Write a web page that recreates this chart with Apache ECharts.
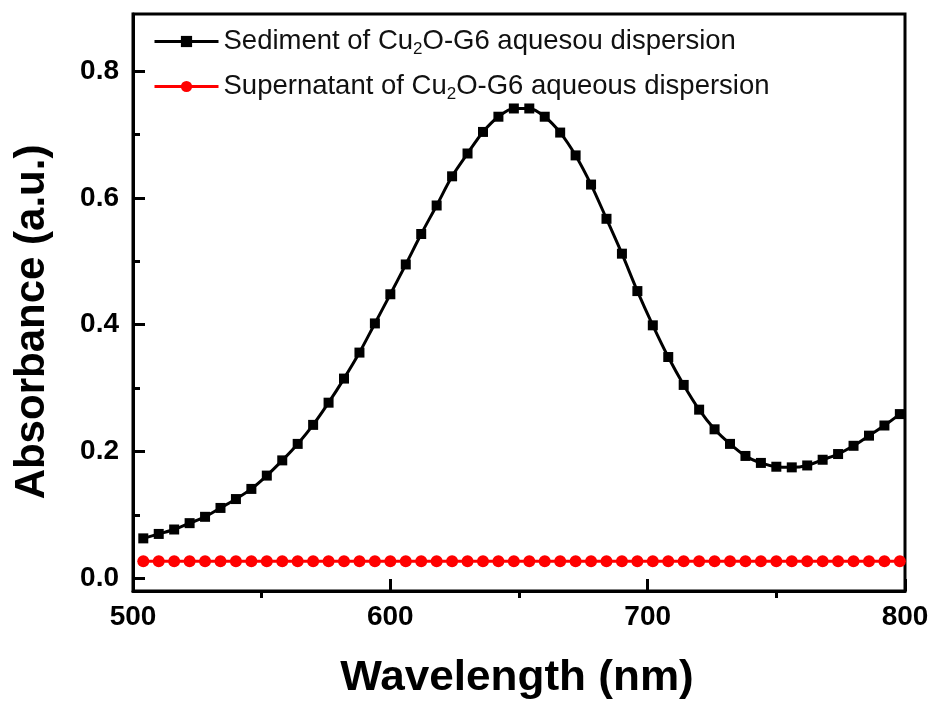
<!DOCTYPE html>
<html>
<head>
<meta charset="utf-8">
<script src="https://cdn.jsdelivr.net/npm/echarts@6/dist/echarts.min.js"></script>
<style>html,body{margin:0;padding:0;background:#fff}#c{width:935px;height:704px}</style>
</head>
<body>
<div id="c"></div>
<script>
const wavelengths = [504,510,516,522,528,534,540,546,552,558,564,570,576,582,588,594,600,606,612,618,624,630,636,642,648,654,660,666,672,678,684,690,696,702,708,714,720,726,732,738,744,750,756,762,768,774,780,786,792,798];
const sediment = [0.063,0.070,0.077,0.087,0.097,0.111,0.125,0.141,0.162,0.186,0.212,0.242,0.277,0.315,0.356,0.402,0.448,0.495,0.543,0.588,0.634,0.670,0.704,0.728,0.741,0.741,0.728,0.703,0.667,0.621,0.567,0.512,0.453,0.399,0.349,0.305,0.266,0.235,0.212,0.193,0.182,0.176,0.175,0.178,0.187,0.196,0.209,0.225,0.241,0.259];
const supernatant = [0.027,0.027,0.027,0.027,0.027,0.027,0.027,0.027,0.027,0.027,0.027,0.027,0.027,0.027,0.027,0.027,0.027,0.027,0.027,0.027,0.027,0.027,0.027,0.027,0.027,0.027,0.027,0.027,0.027,0.027,0.027,0.027,0.027,0.027,0.027,0.027,0.027,0.027,0.027,0.027,0.027,0.027,0.027,0.027,0.027,0.027,0.027,0.027,0.027,0.027];
const seriesNames = ['Sediment of Cu2O-G6 aquesou dispersion','Supernatant of Cu2O-G6 aqueous dispersion'];
const xMajorTicks = [500,600,700,800];
const xMinorTicks = [550,650,750];
const yMajorTicks = [0,0.2,0.4,0.6,0.8];
const yMinorTicks = [0.1,0.3,0.5,0.7];
const xTitle = 'Wavelength (nm)';
const yTitle = 'Absorbance (a.u.)';

const FONT = 'Liberation Sans, Arial, sans-serif';
const chart = echarts.init(document.getElementById('c'));
const gridPos = () => ({left:133, right:30, top:14, bottom:113});
const LW = 3;
const ls = () => ({color:'#000', width:LW});
const X_RANGE = {min:500, max:800};
const Y_RANGE = {min:-0.02, max:0.89};

function legendFmt(name){
  const i = name.indexOf('Cu2O');
  return '{a|' + name.slice(0, i+2) + '}{s|2}{a|' + name.slice(i+3) + '}';
}
function tickX(gi, values, inside, len){
  return Object.assign({type:'value', gridIndex:gi, position:'bottom',
    axisLine:{show:false, onZero:false},
    axisTick:{show:true, inside:inside, length:len, lineStyle:ls(), customValues:values},
    axisLabel:{show:false}, splitLine:{show:false}}, X_RANGE);
}
function tickY(gi, values, inside, len){
  return Object.assign({type:'value', gridIndex:gi, position:'left',
    axisLine:{show:false, onZero:false},
    axisTick:{show:true, inside:inside, length:len, lineStyle:ls(), customValues:values},
    axisLabel:{show:false}, splitLine:{show:false}}, Y_RANGE);
}

const option = {
  animation:false,
  backgroundColor:'#fff',
  grid:[
    Object.assign({show:true, borderColor:'#000', borderWidth:LW}, gridPos()),
    Object.assign({show:false}, gridPos()),
    Object.assign({show:false}, gridPos())
  ],
  legend:{
    orient:'vertical', left:148, top:20, itemWidth:64, itemHeight:14, itemGap:12,
    lineStyle:{width:3},
    textStyle:{color:'#111', fontFamily:FONT, fontSize:27.5,
      rich:{a:{fontSize:27.5, fontFamily:FONT, color:'#111', lineHeight:30},
            s:{fontSize:17, fontFamily:FONT, color:'#111', padding:[16,0,0,0], lineHeight:30}}},
    formatter:legendFmt,
    data:seriesNames
  },
  xAxis:[
    Object.assign({type:'value', gridIndex:0, interval:100, position:'bottom',
     axisLine:{show:true, onZero:false, lineStyle:ls()},
     axisTick:{show:false},
     axisLabel:{margin:12, fontSize:28, fontWeight:'bold', color:'#000', fontFamily:FONT},
     splitLine:{show:false}}, X_RANGE),
    tickX(1, xMinorTicks, false, 7),
    tickX(2, xMajorTicks, true, 12)
  ],
  yAxis:[
    Object.assign({type:'value', gridIndex:0, position:'left',
     axisLine:{show:true, onZero:false, lineStyle:ls()},
     axisTick:{show:false},
     axisLabel:{margin:14, fontSize:28, fontWeight:'bold', color:'#000', fontFamily:FONT, customValues:yMajorTicks, formatter:v=>v.toFixed(1)},
     splitLine:{show:false}}, Y_RANGE),
    tickY(1, yMajorTicks, true, 12),
    tickY(2, yMinorTicks, true, 7)
  ],
  series:[
    {name:seriesNames[0], type:'line', xAxisIndex:0, yAxisIndex:0,
     data:wavelengths.map((w,i)=>[w, sediment[i]]),
     smooth:0.3, symbol:'rect', symbolSize:10, showAllSymbol:true,
     lineStyle:{color:'#000', width:3}, itemStyle:{color:'#000'}, z:3},
    {name:seriesNames[1], type:'line', xAxisIndex:0, yAxisIndex:0,
     data:wavelengths.map((w,i)=>[w, supernatant[i]]),
     symbol:'circle', symbolSize:12, showAllSymbol:true,
     lineStyle:{color:'#ff0000', width:3}, itemStyle:{color:'#ff0000'}, z:4}
  ],
  graphic:[
    {type:'text', x:517, y:678, scaleX:1.05,
     style:{text:xTitle, font:'bold 42px ' + FONT, fill:'#000', textAlign:'center', textVerticalAlign:'middle'}},
    {type:'text', x:32, y:322, rotation:Math.PI/2,
     style:{text:yTitle, font:'bold 42px ' + FONT, fill:'#000', textAlign:'center', textVerticalAlign:'middle'}}
  ]
};
chart.setOption(option);
</script>
</body>
</html>
